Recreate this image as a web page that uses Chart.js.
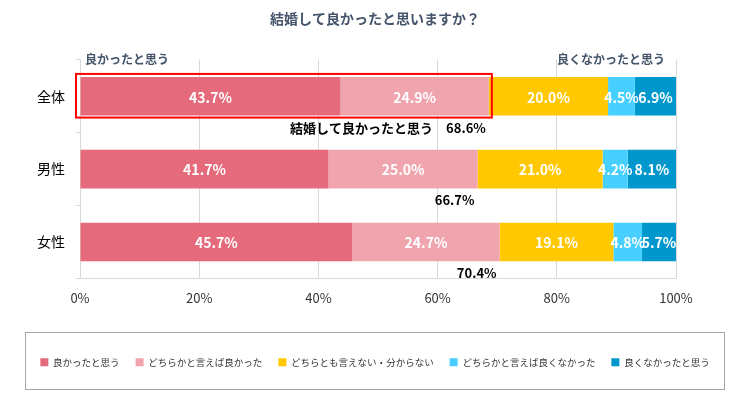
<!DOCTYPE html>
<html lang="ja">
<head>
<meta charset="utf-8">
<script src="https://cdn.jsdelivr.net/npm/chart.js@4"></script>
<style>
  html, body { margin: 0; padding: 0; background: #fff; }
  #wrap { width: 750px; height: 394px; }
</style>
</head>
<body>
<div id="wrap"><canvas id="marriageChart" width="750" height="394"></canvas></div>
<script>
// data
const categories = ['全体', '男性', '女性'];
const seriesNames = ['良かったと思う', 'どちらかと言えば良かった', 'どちらとも言えない・分からない', 'どちらかと言えば良くなかった', '良くなかったと思う'];
const veryGood = [43.7, 41.7, 45.7];
const somewhatGood = [24.9, 25.0, 24.7];
const neutral = [20.0, 21.0, 19.1];
const somewhatBad = [4.5, 4.2, 4.8];
const veryBad = [6.9, 8.1, 5.7];
const goodTotal = [68.6, 66.7, 70.4];
const goodTotalPrefix = ['結婚して良かったと思う　', '', ''];

const colors = {
    veryGood: '#e56a7b',
    somewhatGood: '#f0a5ae',
    neutral: '#ffc800',
    somewhatBad: '#47d0ff',
    veryBad: '#0098cc',
    grid: '#d9d9d9',
    titleText: '#44546a'
};
const FONT = '"Noto Sans CJK JP", "Noto Sans", sans-serif';

// white value labels, red box, totals and side captions
const overlayPlugin = {
    id: 'overlay',
    afterDatasetsDraw(chart) {
        const ctx = chart.ctx;
        const xs = chart.scales.x;
        const area = chart.chartArea;
        ctx.save();

        // values inside the bars
        ctx.font = 'bold 14px ' + FONT;
        ctx.fillStyle = '#fff';
        ctx.textAlign = 'center';
        ctx.textBaseline = 'middle';
        chart.data.datasets.forEach((ds, di) => {
            chart.getDatasetMeta(di).data.forEach((bar, i) => {
                ctx.fillText(ds.data[i].toFixed(1) + '%', (bar.x + bar.base) / 2, bar.y + 1);
            });
        });

        // red frame round the "good" part of 全体
        const first = chart.getDatasetMeta(0).data[0];
        const top = first.y - first.height / 2;
        const bottom = first.y + first.height / 2;
        const x0 = xs.getPixelForValue(0);
        ctx.strokeStyle = '#ff0000';
        ctx.lineWidth = 2;
        ctx.strokeRect(x0 - 4, top - 3, xs.getPixelForValue(goodTotal[0]) + 3 - (x0 - 4), bottom - top + 5);

        // totals under each bar
        ctx.font = 'bold 13px ' + FONT;
        ctx.fillStyle = '#000';
        ctx.textAlign = 'right';
        chart.getDatasetMeta(0).data.forEach((bar, i) => {
            const y = bar.y + bar.height / 2 + 12;
            ctx.fillText(goodTotalPrefix[i] + goodTotal[i].toFixed(1) + '%', xs.getPixelForValue(goodTotal[i]) - 3, y);
        });

        // captions above the plot
        ctx.font = 'bold 12px ' + FONT;
        ctx.fillStyle = colors.titleText;
        ctx.textAlign = 'left';
        ctx.fillText('良かったと思う', x0 + 5, area.top);
        ctx.textAlign = 'right';
        ctx.fillText('良くなかったと思う', xs.getPixelForValue(100) - 11, area.top);
        ctx.restore();
    },
    afterDraw(chart) {
        // frame round the legend
        const ctx = chart.ctx;
        ctx.save();
        ctx.strokeStyle = '#a6a6a6';
        ctx.lineWidth = 1;
        ctx.strokeRect(25.5, 332.5, chart.width - 51, 57);
        ctx.restore();
    }
};

const ctx = document.getElementById('marriageChart').getContext('2d');
new Chart(ctx, {
    type: 'bar',
    data: {
        labels: categories,
        datasets: [
            { label: seriesNames[0], data: veryGood, backgroundColor: colors.veryGood },
            { label: seriesNames[1], data: somewhatGood, backgroundColor: colors.somewhatGood },
            { label: seriesNames[2], data: neutral, backgroundColor: colors.neutral },
            { label: seriesNames[3], data: somewhatBad, backgroundColor: colors.somewhatBad },
            { label: seriesNames[4], data: veryBad, backgroundColor: colors.veryBad }
        ]
    },
    options: {
        indexAxis: 'y',
        responsive: false,
        animation: false,
        barPercentage: 0.53,
        categoryPercentage: 1,
        layout: { padding: { top: 0, left: 0, right: 0, bottom: 17 } },
        plugins: {
            title: {
                display: true,
                text: '結婚して良かったと思いますか？',
                color: colors.titleText,
                font: { family: FONT, size: 14, weight: 'bold' },
                padding: { top: 10, bottom: 33 }
            },
            legend: {
                position: 'bottom',
                labels: {
                    boxWidth: 8,
                    boxHeight: 8,
                    padding: 16,
                    color: '#333',
                    font: { family: FONT, size: 9.5 }
                }
            },
            tooltip: { enabled: false }
        },
        scales: {
            x: {
                stacked: true,
                min: 0,
                max: 100,
                ticks: {
                    stepSize: 20,
                    padding: 12,
                    color: '#333',
                    font: { family: FONT, size: 13 },
                    callback: v => v + '%'
                },
                grid: { color: colors.grid, drawTicks: false },
                border: { color: colors.grid },
                afterFit: scale => { scale.height = 63; }
            },
            y: {
                stacked: true,
                ticks: {
                    padding: 11,
                    color: '#000',
                    font: { family: FONT, size: 14 }
                },
                grid: { drawOnChartArea: false, tickLength: 4, color: colors.grid },
                border: { color: colors.grid },
                afterFit: scale => { scale.width = 80; }
            },
            // empty right-hand margin so the plot ends where the original does
            yRight: {
                type: 'category',
                position: 'right',
                ticks: { display: false },
                grid: { display: false },
                border: { display: false },
                afterFit: scale => { scale.width = 74; }
            }
        }
    },
    plugins: [overlayPlugin]
});
</script>
</body>
</html>
